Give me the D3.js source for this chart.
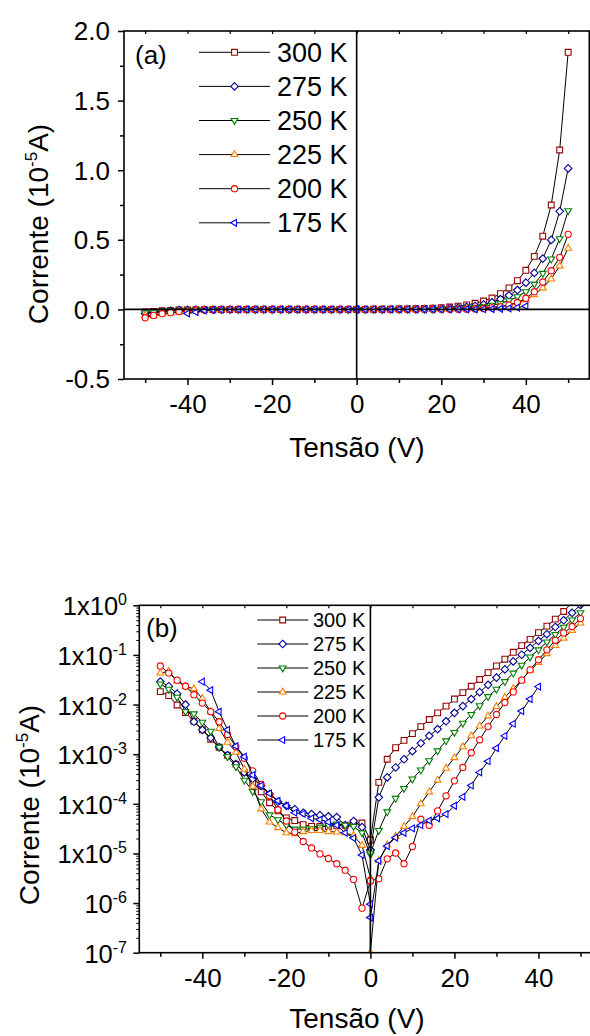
<!DOCTYPE html>
<html>
<head>
<meta charset="utf-8">
<script src="https://cdn.jsdelivr.net/npm/d3@7/dist/d3.min.js"></script>
<style>
  body { margin: 0; background: #fff; }
  svg { display: block; }
  text { font-family: "Liberation Sans", Arial, Helvetica, sans-serif; fill: #000; }
</style>
</head>
<body>
<div id="chart"></div>
<script>
/* ***** DATA ***** */

// Voltage sweeps (V): negative branch ends at 0, positive branch starts again at 0
var volts = [-50,-48,-46,-44,-42,-40,-38,-36,-34,-32,-30,-28,-26,-24,-22,-20,-18,-16,-14,-12,-10,-8,-6,-4,-2,0,
             0,2,4,6,8,10,12,14,16,18,20,22,24,26,28,30,32,34,36,38,40,42,44,46,48,50];
var volts175 = [-40,-38,-36,-34,-32,-30,-28,-26,-24,-22,-20,-18,-16,-14,-12,-10,-8,-6,-4,-2,0,
                0,2,4,6,8,10,12,14,16,18,20,22,24,26,28,30,32,34,36,38,40];

// |current| in units of 10^-5 A
var cur300 = [1.82e-2,1.51e-2,9.8e-3,6.9e-3,4.6e-3,3.1e-3,2.0e-3,1.38e-3,9.5e-4,6.3e-4,4.3e-4,2.7e-4,1.74e-4,1.05e-4,7.2e-5,5.2e-5,4.6e-5,3.8e-5,3.5e-5,3.5e-5,3.5e-5,3.6e-5,3.7e-5,4.1e-5,4.1e-5,1.86e-5,
              1.86e-5,2.7e-4,7.9e-4,1.35e-3,1.9e-3,2.6e-3,3.6e-3,5.0e-3,6.8e-3,9.3e-3,1.29e-2,1.74e-2,2.34e-2,3.2e-2,4.4e-2,6.0e-2,8.2e-2,0.113,0.154,0.206,0.281,0.381,0.526,0.75,1.145,1.847];
var cur275 = [2.9e-2,2.34e-2,1.66e-2,1.0e-2,4.5e-3,3.1e-3,2.14e-3,1.38e-3,9.5e-4,6.3e-4,4.3e-4,3.2e-4,2.3e-4,1.58e-4,1.10e-4,9.1e-5,7.8e-5,6.6e-5,6.2e-5,5.9e-5,5.6e-5,5.4e-5,3.7e-5,4.5e-5,3.4e-5,1.17e-5,
              1.17e-5,1.35e-4,3.4e-4,5.4e-4,7.9e-4,1.15e-3,1.66e-3,2.34e-3,3.2e-3,4.6e-3,6.8e-3,9.3e-3,1.29e-2,1.78e-2,2.5e-2,3.5e-2,5.1e-2,7.4e-2,0.101,0.139,0.192,0.262,0.365,0.499,0.705,1.013];
var cur250 = [2.6e-2,2.04e-2,1.41e-2,7.2e-3,6.5e-3,4.4e-3,2.9e-3,1.38e-3,8.9e-4,5.6e-4,3.0e-4,1.78e-4,1.10e-4,6.0e-5,4.8e-5,3.7e-5,3.1e-5,3.1e-5,3.16e-5,3.4e-5,3.7e-5,3.9e-5,3.7e-5,3.5e-5,2.6e-5,9.5e-6,
              1.02e-5,2.9e-5,6.9e-5,1.29e-4,2.04e-4,3.16e-4,4.8e-4,7.4e-4,1.17e-3,1.86e-3,2.75e-3,4.2e-3,6.3e-3,9.5e-3,1.45e-2,2.04e-2,2.9e-2,4.3e-2,6.2e-2,9.1e-2,0.127,0.182,0.259,0.362,0.508,0.709];
var cur225 = [4.3e-2,4.7e-2,3.0e-2,2.29e-2,2.09e-2,1.32e-2,7.2e-3,3.3e-3,1.74e-3,1.10e-3,5.0e-4,2.24e-4,7.9e-5,4.3e-5,3.3e-5,2.6e-5,2.5e-5,2.75e-5,2.9e-5,2.9e-5,2.75e-5,2.7e-5,2.6e-5,2.29e-5,1.45e-5,3.2e-6,
              1.0e-7,7.2e-6,1.48e-5,2.2e-5,3.5e-5,5.5e-5,1.0e-4,1.74e-4,3.0e-4,5.2e-4,8.5e-4,1.41e-3,2.34e-3,3.7e-3,5.9e-3,9.1e-3,1.4e-2,2.1e-2,3.1e-2,4.9e-2,7.0e-2,0.106,0.154,0.218,0.312,0.439];
var cur200 = [6.0e-2,4.3e-2,3.1e-2,2.34e-2,1.58e-2,1.07e-2,7.2e-3,4.5e-3,2.5e-3,1.41e-3,8.3e-4,4.6e-4,2.45e-4,1.45e-4,7.6e-5,4.5e-5,2.7e-5,1.74e-5,1.29e-5,9.8e-6,7.9e-6,6.2e-6,4.6e-6,3.0e-6,7.9e-7,2.8e-6,
              2.8e-6,3.1e-6,7.8e-6,1.02e-5,6.2e-6,1.38e-5,4.9e-5,3.7e-5,7.2e-5,1.45e-4,2.9e-4,5.4e-4,1.07e-3,1.95e-3,3.6e-3,6.3e-3,1.1e-2,1.8e-2,3.1e-2,5.0e-2,0.08,0.127,0.197,0.278,0.374,0.539];
var cur175 = [2.9e-2,1.95e-2,7.2e-3,3.1e-3,1.45e-3,8.9e-4,3.8e-4,2.34e-4,1.62e-4,1.15e-4,9.1e-5,6.6e-5,6.3e-5,5.1e-5,4.8e-5,4.3e-5,3.7e-5,2.6e-5,2.04e-5,9.3e-6,9.5e-7,
              5.1e-7,7.1e-6,1.41e-5,2.09e-5,2.6e-5,3.2e-5,3.7e-5,4.6e-5,5.1e-5,6.2e-5,9.1e-5,1.38e-4,2.34e-4,4.3e-4,7.2e-4,1.32e-3,2.34e-3,4.1e-3,7.4e-3,1.29e-2,2.3e-2];

var seriesLabels = ["300 K", "275 K", "250 K", "225 K", "200 K", "175 K"];

// Tick values
var xMajorTicks = [-40, -20, 0, 20, 40];
var xMinorTicks = [-50, -30, -10, 10, 30, 50];
var yMajorTicksA = [-0.5, 0.0, 0.5, 1.0, 1.5, 2.0];
var yMinorTicksA = [-0.25, 0.25, 0.75, 1.25, 1.75];
var yExpTicksB = [0, -1, -2, -3, -4, -5, -6, -7];

/* ***** STYLE ***** */
var seriesColors = ["#990000", "#000099", "#008000", "#ff8000", "#ff0000", "#0000ff"];
var seriesShapes = ["square", "diamond", "down", "up", "circle", "left"];

var series = [
  {volts: volts,    cur: cur300},
  {volts: volts,    cur: cur275},
  {volts: volts,    cur: cur250},
  {volts: volts,    cur: cur225},
  {volts: volts,    cur: cur200},
  {volts: volts175, cur: cur175}
].map(function(s, i) {
  s.label = seriesLabels[i]; s.color = seriesColors[i]; s.shape = seriesShapes[i];
  return s;
});

// Open marker outlines
function symbolPath(shape) {
  var r;
  switch (shape) {
    case "square":  r = 2.9; return "M" + (-r) + "," + (-r) + "H" + r + "V" + r + "H" + (-r) + "Z";
    case "diamond": r = 3.8; return "M0," + (-r) + "L" + r + ",0L0," + r + "L" + (-r) + ",0Z";
    case "up":      r = 3.9; return "M0," + (-r) + "L" + (0.87 * r) + "," + (0.5 * r) + "L" + (-0.87 * r) + "," + (0.5 * r) + "Z";
    case "down":    r = 3.9; return "M0," + r + "L" + (0.87 * r) + "," + (-0.5 * r) + "L" + (-0.87 * r) + "," + (-0.5 * r) + "Z";
    case "left":    r = 3.9; return "M" + (-r) + ",0L" + (0.5 * r) + "," + (-0.87 * r) + "L" + (0.5 * r) + "," + (0.87 * r) + "Z";
    default:        r = 3.1; return "M" + r + ",0A" + r + "," + r + " 0 1 1 " + (-r) + ",0A" + r + "," + r + " 0 1 1 " + r + ",0Z";
  }
}

/* ***** SETUP ***** */
var svg = d3.select("#chart").append("svg").attr("width", 590).attr("height", 1036);
svg.append("rect").attr("width", 590).attr("height", 1036).attr("fill", "#fff");

var boxA = {left: 124, right: 589.3, top: 31, bottom: 379};
var boxB = {left: 139.3, right: 601.5, top: 605.3, bottom: 952.7};

var xA = d3.scaleLinear().domain([-55, 55]).range([boxA.left, boxA.right]);
var yA = d3.scaleLinear().domain([-0.5, 2.0]).range([boxA.bottom, boxA.top]);
var xB = d3.scaleLinear().domain([-55, 55]).range([boxB.left, boxB.right]);
var yB = d3.scaleLog().domain([1e-7, 1]).range([boxB.bottom, boxB.top]);

svg.append("clipPath").attr("id", "clipB").append("rect")
  .attr("x", boxB.left).attr("y", boxB.top)
  .attr("width", boxB.right - boxB.left).attr("height", boxB.bottom - boxB.top);

// Draw lines + markers of every series into g
function drawSeries(g, x, y, valueOf) {
  series.forEach(function(s) {
    var pts = s.volts.map(function(v, i) { return [v, valueOf(v, s.cur[i])]; });
    var line = d3.line().x(function(d) { return x(d[0]); }).y(function(d) { return y(d[1]); });
    g.append("path").datum(pts)
      .attr("d", line)
      .attr("fill", "none")
      .attr("stroke", "#000")
      .attr("stroke-width", 1);
    g.selectAll(null).data(pts).enter().append("path")
      .attr("d", symbolPath(s.shape))
      .attr("transform", function(d) { return "translate(" + x(d[0]) + "," + y(d[1]) + ")"; })
      .attr("fill", "#fff")
      .attr("stroke", s.color)
      .attr("stroke-width", 1.1);
  });
}

function drawLegend(g, x0, x1, xm, xt, y0, dy, fontSize, baseOff) {
  series.forEach(function(s, i) {
    var yy = y0 + i * dy;
    g.append("line").attr("x1", x0).attr("x2", x1).attr("y1", yy).attr("y2", yy)
      .attr("stroke", "#000").attr("stroke-width", 1);
    g.append("path").attr("d", symbolPath(s.shape))
      .attr("transform", "translate(" + xm + "," + yy + ")")
      .attr("fill", "#fff").attr("stroke", s.color).attr("stroke-width", 1.1);
    g.append("text").attr("x", xt).attr("y", yy + baseOff)
      .style("font-size", fontSize + "px").text(s.label);
  });
}

// x axis ticks (bottom outward, top inward) + labels
function drawXAxis(x, box, labelY) {
  svg.append("g").attr("transform", "translate(0," + box.bottom + ")")
    .call(d3.axisBottom(x).tickValues(xMajorTicks).tickSize(6).tickFormat(function(d) { return String(d); }))
    .call(function(g) { g.select(".domain").remove(); })
    .call(function(g) {
      g.selectAll("line").attr("stroke-width", 1.5);
      g.selectAll("text").attr("y", labelY).attr("dy", 0)
        .style("font-size", "26px").style("font-family", "Liberation Sans, Arial, sans-serif");
    });
  svg.append("g").attr("transform", "translate(0," + box.bottom + ")")
    .call(d3.axisBottom(x).tickValues(xMinorTicks).tickSize(4).tickFormat(""))
    .call(function(g) { g.select(".domain").remove(); g.selectAll("line").attr("stroke-width", 1.5); });
  svg.append("g").attr("transform", "translate(0," + box.top + ")")
    .call(d3.axisTop(x).tickValues(xMajorTicks.concat(xMinorTicks)).tickSize(-3).tickFormat(""))
    .call(function(g) { g.select(".domain").remove(); g.selectAll("line").attr("stroke-width", 1.2); });
}

/* ***** PANEL (a): linear ***** */
var gA = svg.append("g");
drawSeries(gA, xA, yA, function(v, c) { return v < 0 ? -c : c; });

// zero lines
svg.append("line").attr("x1", boxA.left).attr("x2", boxA.right)
  .attr("y1", yA(0)).attr("y2", yA(0)).attr("stroke", "#000").attr("stroke-width", 1.6);
svg.append("line").attr("x1", xA(0)).attr("x2", xA(0))
  .attr("y1", boxA.top).attr("y2", boxA.bottom).attr("stroke", "#000").attr("stroke-width", 1.6);

// frame
svg.append("rect").attr("x", boxA.left).attr("y", boxA.top)
  .attr("width", boxA.right - boxA.left).attr("height", boxA.bottom - boxA.top)
  .attr("fill", "none").attr("stroke", "#000").attr("stroke-width", 1.6);

drawXAxis(xA, boxA, 34);

svg.append("g").attr("transform", "translate(" + boxA.left + ",0)")
  .call(d3.axisLeft(yA).tickValues(yMajorTicksA).tickSize(6).tickPadding(8).tickFormat(d3.format(".1f")))
  .call(function(g) {
    g.select(".domain").remove();
    g.selectAll("line").attr("stroke-width", 1.5);
    g.selectAll("text").attr("dy", "0.34em").style("font-size", "26px")
      .style("font-family", "Liberation Sans, Arial, sans-serif")
      .text(function(d) { return d3.format(".1f")(d).replace("\u2212", "-"); });
  });
svg.append("g").attr("transform", "translate(" + boxA.left + ",0)")
  .call(d3.axisLeft(yA).tickValues(yMinorTicksA).tickSize(4).tickFormat(""))
  .call(function(g) { g.select(".domain").remove(); g.selectAll("line").attr("stroke-width", 1.5); });

drawLegend(svg.append("g"), 199, 270, 234.5, 277, 52.3, 34.1, 27, 9.6);
svg.append("text").attr("x", 135).attr("y", 64).style("font-size", "26px").text("(a)");

// axis titles
svg.append("text").attr("x", 357).attr("y", 457).attr("text-anchor", "middle")
  .style("font-size", "28px").text("Tens\u00e3o (V)");
var ylA = svg.append("text").attr("transform", "translate(48,224) rotate(-90)")
  .attr("text-anchor", "middle").style("font-size", "28px");
ylA.append("tspan").text("Corrente (10");
ylA.append("tspan").attr("dy", -11).style("font-size", "17px").text("-5");
ylA.append("tspan").attr("dy", 11).text("A)");

/* ***** PANEL (b): log ***** */
var gB = svg.append("g").attr("clip-path", "url(#clipB)");
drawSeries(gB, xB, yB, function(v, c) { return c; });

svg.append("line").attr("x1", xB(0)).attr("x2", xB(0))
  .attr("y1", boxB.top).attr("y2", boxB.bottom).attr("stroke", "#000").attr("stroke-width", 1.6);

svg.append("rect").attr("x", boxB.left).attr("y", boxB.top)
  .attr("width", boxB.right - boxB.left).attr("height", boxB.bottom - boxB.top)
  .attr("fill", "none").attr("stroke", "#000").attr("stroke-width", 1.6);

drawXAxis(xB, boxB, 34.3);

// log y ticks: decades and 2..9 minors
var minorB = [];
yExpTicksB.slice(1).forEach(function(e) {
  [2, 3, 4, 5, 6, 7, 8, 9].forEach(function(m) { minorB.push(m * Math.pow(10, e)); });
});
svg.append("g").attr("transform", "translate(" + boxB.left + ",0)")
  .call(d3.axisLeft(yB).tickValues(yExpTicksB.map(function(e) { return Math.pow(10, e); })).tickSize(6).tickFormat(""))
  .call(function(g) { g.select(".domain").remove(); g.selectAll("line").attr("stroke-width", 1.5); });
svg.append("g").attr("transform", "translate(" + boxB.left + ",0)")
  .call(d3.axisLeft(yB).tickValues(minorB).tickSize(3).tickFormat(""))
  .call(function(g) { g.select(".domain").remove(); g.selectAll("line").attr("stroke-width", 1); });

yExpTicksB.forEach(function(e) {
  var t = svg.append("text").attr("x", 127).attr("y", yB(Math.pow(10, e)) + 10)
    .attr("text-anchor", "end").style("font-size", "25.5px");
  t.append("tspan").text(e > -6 ? "1x10" : "10");
  t.append("tspan").attr("dy", -10).style("font-size", "16px").text(String(e));
});

drawLegend(svg.append("g"), 257.3, 308.3, 282.7, 313, 620, 24, 20, 7);
svg.append("text").attr("x", 146).attr("y", 637).style("font-size", "26px").text("(b)");

svg.append("text").attr("x", 357).attr("y", 1028).attr("text-anchor", "middle")
  .style("font-size", "28px").text("Tens\u00e3o (V)");
var ylB = svg.append("text").attr("transform", "translate(38.5,805) rotate(-90)")
  .attr("text-anchor", "middle").style("font-size", "28px");
ylB.append("tspan").text("Corrente (10");
ylB.append("tspan").attr("dy", -11).style("font-size", "17px").text("-5");
ylB.append("tspan").attr("dy", 11).text("A)");
</script>
</body>
</html>
